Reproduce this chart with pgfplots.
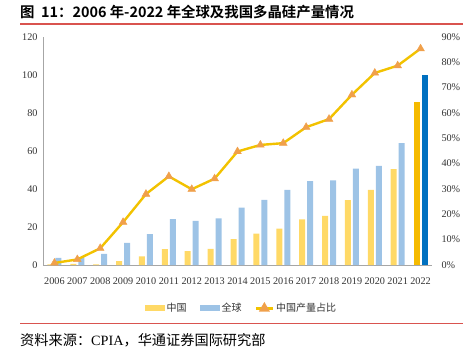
\documentclass[border=0pt]{standalone}
\usepackage{pgfplots}
\pgfplotsset{compat=1.18}
\usepackage{fontspec}
\setmainfont{Liberation Serif}
\newfontfamily\cjk{Noto Sans CJK SC}
\newfontfamily\cjkb{Noto Sans CJK SC Bold}
\definecolor{cnY}{HTML}{FFD966}
\definecolor{glB}{HTML}{9DC3E6}
\definecolor{cnY2}{HTML}{F5BA00}
\definecolor{glB2}{HTML}{0070C0}
\definecolor{lineY}{HTML}{F2C200}
\definecolor{triO}{HTML}{F0A04B}
\definecolor{ruleR}{HTML}{D9534F}
\begin{document}
\begin{tikzpicture}
\useasboundingbox (0pt,0pt) rectangle (471pt,360pt);
% title
\node[anchor=west,inner sep=0] at (20pt,348pt) {\fontsize{14.4}{16}\cjkb 图\ \ 11：2006 年-2022 年全球及我国多晶硅产量情况};
\draw[ruleR,line width=1.8pt] (20pt,336pt) -- (463pt,336pt);
\draw[ruleR,line width=0.9pt] (20pt,37pt) -- (463pt,37pt);
\node[anchor=west,inner sep=0] at (20pt,20pt) {\fontsize{14.2}{16}\cjk 资料来源：\rmfamily CPIA\cjk ，华通证券国际研究部};
\begin{axis}[
  at={(43pt,95pt)}, anchor=south west,
  scale only axis, width=389pt, height=228pt,
  xmin=-0.5, xmax=16.5, ymin=0, ymax=120,
  axis y line*=left, axis x line*=bottom,
  axis line style={black!35},
  xtick={0,...,16},
  xticklabels={2006,2007,2008,2009,2010,2011,2012,2013,2014,2015,2016,2017,2018,2019,2020,2021,2022},
  ytick={0,20,...,120},
  major tick length=0pt,
  tick label style={font=\fontsize{10.2}{12}\selectfont, text=black!80},
  /pgf/number format/assume math mode=true,
  xticklabel style={yshift=-9pt},
  yticklabel style={xshift=-2pt},
  legend style={at={(0.51,-0.19)}, anchor=center, draw=none, fill=none,
    legend columns=3, font=\fontsize{10}{12}\cjk, text=black!80,
    /tikz/every even column/.append style={column sep=11pt}},
  legend cell align=left,
]
\addplot[ybar, bar width=6pt, bar shift=-4pt, fill=cnY, draw=none,
  legend image code/.code={\fill[cnY] (0pt,-3pt) rectangle (20pt,3pt);}]
  coordinates {(0,0.3) (1,0.6) (2,0.3) (3,2.1) (4,4.5) (5,8.4) (6,7.3) (7,8.5) (8,13.6) (9,16.5) (10,19.2) (11,24.0) (12,25.9) (13,34.2) (14,39.6) (15,50.5)};
\addlegendentry{中国}
\addplot[ybar, bar width=6pt, bar shift=4pt, fill=glB, draw=none,
  legend image code/.code={\fill[glB] (0pt,-3pt) rectangle (20pt,3pt);}]
  coordinates {(0,3.8) (1,4.0) (2,5.9) (3,11.7) (4,16.2) (5,24.1) (6,23.2) (7,24.6) (8,30.2) (9,34.3) (10,39.6) (11,44.2) (12,44.6) (13,50.7) (14,52.2) (15,64.1)};
\addlegendentry{全球}
\addlegendimage{lineY, line width=2.4pt, mark=triangle*, mark size=4pt, mark options={fill=triO, draw=triO}}
\addlegendentry{中国产量占比}
\addplot[ybar, bar width=6pt, bar shift=-4pt, fill=cnY2, draw=none, forget plot]
  coordinates {(16,85.7)};
\addplot[ybar, bar width=6pt, bar shift=4pt, fill=glB2, draw=none, forget plot]
  coordinates {(16,100.1)};
\end{axis}
\begin{axis}[
  at={(43pt,95pt)}, anchor=south west,
  scale only axis, width=389pt, height=228pt,
  xmin=-0.5, xmax=16.5, ymin=0, ymax=90,
  axis y line*=right, axis x line=none,
  y axis line style={draw=none},
  ytick={0,10,...,90},
  yticklabel={\pgfmathprintnumber{\tick}\%},
  major tick length=0pt,
  tick label style={font=\fontsize{10.2}{12}\selectfont, text=black!80},
  /pgf/number format/assume math mode=true,
  yticklabel style={xshift=6pt},
]
\addplot[lineY, line width=2.4pt, mark=triangle*, mark size=4.5pt, mark options={fill=triO, draw=triO, line width=0.4pt}]
  coordinates {(0,0.8) (1,2.2) (2,6.6) (3,16.9) (4,28.0) (5,35.0) (6,29.9) (7,34.1) (8,44.8) (9,47.4) (10,48.1) (11,54.4) (12,57.6) (13,67.2) (14,75.8) (15,78.7) (16,85.4)};
\end{axis}
\end{tikzpicture}
\end{document}
